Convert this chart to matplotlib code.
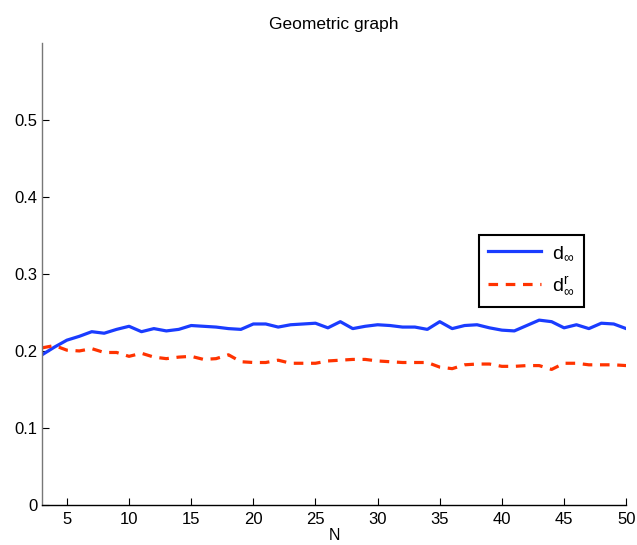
import numpy as np
import matplotlib.pyplot as plt

plt.rcParams["font.family"] = ["Liberation Sans", "DejaVu Sans"]
plt.rcParams["mathtext.fontset"] = "custom"
plt.rcParams["mathtext.rm"] = "Liberation Sans"
plt.rcParams["mathtext.it"] = "Liberation Sans"

N = np.arange(3, 51)
d_inf = [0.195, 0.205, 0.214, 0.219, 0.225, 0.223, 0.228, 0.232, 0.225, 0.229,
         0.226, 0.228, 0.233, 0.232, 0.231, 0.229, 0.228, 0.235, 0.235, 0.231,
         0.234, 0.235, 0.236, 0.230, 0.238, 0.229, 0.232, 0.234, 0.233, 0.231,
         0.231, 0.228, 0.238, 0.229, 0.233, 0.234, 0.230, 0.227, 0.226, 0.233,
         0.240, 0.238, 0.230, 0.234, 0.229, 0.236, 0.235, 0.229]
d_inf_r = [0.204, 0.207, 0.201, 0.200, 0.203, 0.198, 0.198, 0.193, 0.197, 0.192,
           0.190, 0.192, 0.193, 0.189, 0.190, 0.195, 0.186, 0.185, 0.185, 0.188,
           0.184, 0.184, 0.184, 0.187, 0.188, 0.189, 0.189, 0.187, 0.186, 0.185,
           0.185, 0.185, 0.179, 0.177, 0.182, 0.183, 0.183, 0.180, 0.180, 0.181,
           0.181, 0.176, 0.184, 0.184, 0.182, 0.182, 0.182, 0.181]
xticks = [5, 10, 15, 20, 25, 30, 35, 40, 45, 50]
yticks = [0, 0.1, 0.2, 0.3, 0.4, 0.5]

fig = plt.figure(figsize=(6.37, 5.45), dpi=100)
ax = fig.add_axes([0.066, 0.0734, 0.917, 0.848])

ax.plot(N, d_inf, color="#1a3cff", lw=2.3, label=r"$\mathregular{d_\infty}$")
ax.plot(N, d_inf_r, color="#ff3300", lw=2.3, ls=(0, (3.0, 2.4)),
        label=r"$\mathregular{d^r_\infty}$")

ax.set_xlim(3, 50)
ax.set_ylim(0, 0.6)
ax.set_xticks(xticks)
ax.set_yticks(yticks)
ax.set_yticklabels(["0", "0.1", "0.2", "0.3", "0.4", "0.5"])
ax.tick_params(direction="in", length=5, labelsize=12, width=0.8)
ax.tick_params(axis="x", pad=5)

for s in ["top", "right"]:
    ax.spines[s].set_visible(False)
ax.spines["left"].set_color("#777777")
ax.spines["left"].set_linewidth(1.0)
ax.spines["bottom"].set_linewidth(1.0)

ax.set_title("Geometric graph", fontsize=12.5, pad=10)
ax.set_xlabel("N", fontsize=11.5, labelpad=0.5)

leg = ax.legend(loc="upper right", bbox_to_anchor=(0.927, 0.585), fontsize=14,
                fancybox=False, framealpha=1, edgecolor="black",
                handlelength=2.7, borderpad=0.5, labelspacing=0.65,
                handletextpad=0.55, borderaxespad=0)
leg.get_frame().set_linewidth(1.5)

fig.savefig("out.png", dpi=100)
